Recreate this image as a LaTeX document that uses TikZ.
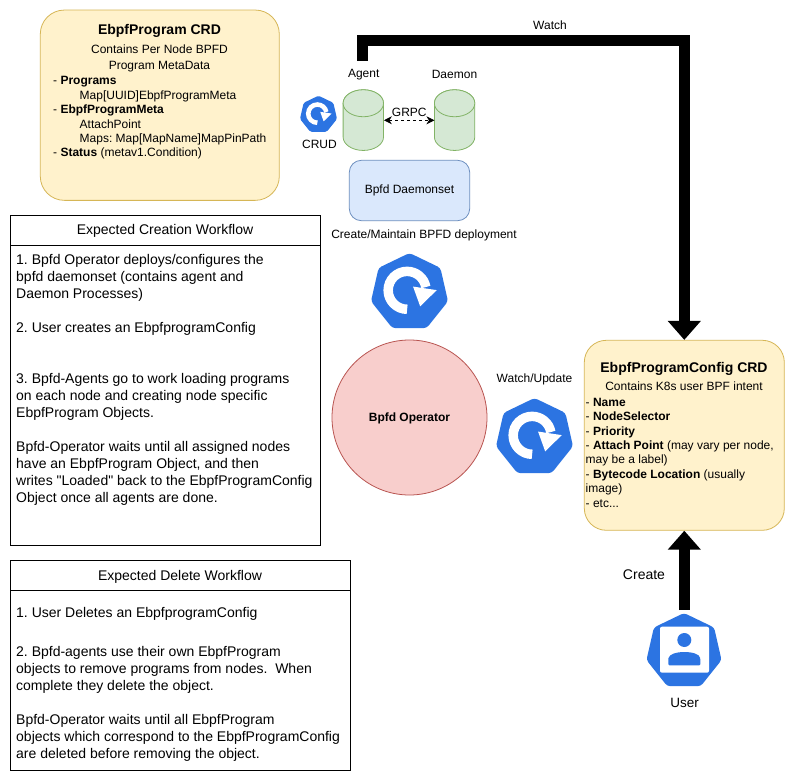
\documentclass[tikz,border=0pt]{standalone}
\usepackage{fontspec}
\setmainfont{Liberation Sans}
\newfontfamily\plainq{Liberation Sans}
\usetikzlibrary{arrows.meta}
\definecolor{yf}{HTML}{FFF2CC}\definecolor{yd}{HTML}{D6B656}
\definecolor{gf}{HTML}{D5E8D4}\definecolor{gd}{HTML}{82B366}
\definecolor{bf}{HTML}{DAE8FC}\definecolor{bd}{HTML}{6C8EBF}
\definecolor{rf}{HTML}{F8CECC}\definecolor{rd}{HTML}{B85450}
\definecolor{kb}{HTML}{2C74E2}
\frenchspacing
\tikzset{
 txt/.style={inner sep=0pt,font=\frenchspacing\fontsize{12}{14.4}\selectfont,align=left},
 ctxt/.style={inner sep=0pt,font=\frenchspacing\fontsize{12}{16.3}\selectfont,align=center},
 ntxt/.style={inner sep=0pt,font=\frenchspacing\fontsize{14}{17}\selectfont,align=left},
 note/.style={rectangle,draw=black,line width=.8pt,fill=white,inner sep=0pt},
 crd/.style={rectangle,draw=yd,fill=yf,line width=.8pt,inner sep=0pt},
 bigarrow/.style={line width=11pt,draw=black,-{Triangle[length=19pt,width=32pt]}},
}
\newcommand\hept[3]{%
 \fill[kb,rounded corners=#3*0.08pt,shift={(#1,#2)},scale=#3]
  (-90:1) -- (-38.57:1) -- (12.86:1) -- (64.29:1) -- (115.71:1) -- (167.14:1) -- (-141.43:1) -- cycle;}
\newcommand\sync[3]{%
 \hept{#1}{#2}{#3}
 \begin{scope}[shift={(#1,#2)},scale=#3]
  \draw[white,line width=#3*0.24pt] (-0.06,-0.055) ++(90:.48) arc[start angle=90,end angle=350,radius=.48];
  \fill[white] (.69,-.06) -- (.27,.35) -- (.09,-.15) -- cycle;
 \end{scope}}
\begin{document}
\begin{tikzpicture}[x=1pt,y=-1pt]
\useasboundingbox (0,0) rectangle (795,781);
\fill[white] (0,0) rectangle (795,781);

% CRD 1
\node[crd,rounded corners=24pt,minimum width=239pt,minimum height=190.3pt] (progcrd) at (159.8,105.2) {};
\node[font=\fontsize{14}{17}\selectfont\bfseries,inner sep=0pt] (progtitle) at (159.5,31) {EbpfProgram CRD};
\node[ctxt,anchor=north] (progsub) at (159.5,44.8) {Contains Per Node BPFD\\Program MetaData};
\node[txt,anchor=north west] (progbody) at (53,76.5) {- \textbf{Programs}\\
\hspace*{26.5pt}Map[UUID]EbpfProgramMeta\\
- \textbf{EbpfProgramMeta}\\
\hspace*{26.5pt}AttachPoint\\
\hspace*{26.5pt}Maps: Map[MapName]MapPinPath\\
- \textbf{Status} (metav1.Condition)};

% Creation
\node[note,minimum width=310.5pt,minimum height=330pt] (creation) at (165.2,380) {};
\node[note,minimum width=310.5pt,minimum height=30.3pt] (creationh) at (165.2,230.2) {};
\node[ntxt] (creationt) at (165,231.3) {Expected Creation Workflow};
\node[ntxt,anchor=north west] (creationb) at (16,254.5) {1. Bpfd Operator deploys/configures the\\
bpfd daemonset (contains agent and\\
Daemon Processes)\\[17pt]
2. User creates an EbpfprogramConfig\\[34pt]
3. Bpfd-Agents go to work loading programs\\
on each node and creating node specific\\
EbpfProgram Objects.\\[17pt]
Bpfd-Operator waits until all assigned nodes\\
have an EbpfProgram Object, and then\\
writes {\plainq"Loaded"} back to the EbpfProgramConfig\\
Object once all agents are done.};

% Delete
\node[note,minimum width=340.7pt,minimum height=209.7pt] (deletion) at (180.4,665.2) {};
\node[note,minimum width=340.7pt,minimum height=30.4pt] (deletionh) at (180.4,575.5) {};
\node[ntxt] (deletiont) at (180,576.8) {Expected Delete Workflow};
\node[ntxt,anchor=north west] (deletionb) at (16,607) {1. User Deletes an EbpfprogramConfig\\[21.7pt]
2. Bpfd-agents use their own EbpfProgram\\
objects to remove programs from nodes.\ \ When\\
complete they delete the object.\\[17pt]
Bpfd-Operator waits until all EbpfProgram\\
objects which correspond to the EbpfProgramConfig\\
are deleted before removing the object.};

% Daemonset
\node[rectangle,draw=bd,fill=bf,line width=.8pt,rounded corners=12pt,minimum width=120.4pt,minimum height=60.4pt,inner sep=0pt,font=\fontsize{12}{15}\selectfont] (daemonset) at (409.5,190.5) {Bpfd Daemonset};
\node[ctxt] (maintain) at (424,235) {Create/Maintain BPFD deployment};

% cylinders
\node[minimum width=40.4pt,minimum height=60.7pt,inner sep=0pt] (agent) at (363.5,120.3) {};
\node[minimum width=40.4pt,minimum height=60.7pt,inner sep=0pt] (daemon) at (454.8,120.3) {};
\foreach \c in {agent,daemon}{
 \draw[draw=gd,fill=gf,line width=.8pt] (\c.north west) ++(0,13.5)
   arc[x radius=20.2,y radius=13.5,start angle=180,end angle=360]
   -- ++(0,33.7) arc[x radius=20.2,y radius=13.5,start angle=0,end angle=180] -- cycle;
 \draw[draw=gd,fill=gf,line width=.8pt] (\c.north west) ++(0,13.5)
   arc[x radius=20.2,y radius=13.5,start angle=180,end angle=540] -- cycle;
}
\node[ctxt] (agentl) at (363.7,74.7) {Agent};
\node[ctxt] (daemonl) at (454.5,74.7) {Daemon};
\draw[dashed,line width=.8pt,{Stealth[length=8pt,width=8pt]}-{Stealth[length=8pt,width=8pt]}] (agent.east) -- (daemon.west);
\node[ctxt] (grpc) at (409.3,112.7) {GRPC};

% sync icons
\sync{318.5}{114.7}{19}
\node[ctxt] (crud) at (319.5,144.7) {CRUD};
\sync{409.5}{292.5}{39.5}
\sync{534.5}{437.5}{39.5}
\node[ctxt] (watchupdate) at (534.5,379.5) {Watch/Update};

% operator
\node[circle,draw=rd,fill=rf,line width=.8pt,minimum size=155pt,inner sep=0pt,font=\fontsize{12}{15}\selectfont\bfseries] (operator) at (409.5,417.5) {\raisebox{-4.3pt}[0pt][0pt]{Bpfd Operator}};

% CRD 2
\node[crd,rounded corners=22pt,minimum width=200pt,minimum height=190pt] (cfgcrd) at (684.3,435.3) {};
\node[font=\fontsize{14}{17}\selectfont\bfseries,inner sep=0pt] (cfgtitle) at (684,369) {EbpfProgramConfig CRD};
\node[ctxt] (cfgsub) at (684,386.7) {Contains K8s user BPF intent};
\node[txt,anchor=north west] (cfgbody) at (585.5,397.8) {- \textbf{Name}\\
- \textbf{NodeSelector}\\
- \textbf{Priority}\\
- \textbf{Attach Point} (may vary per node,\\
may be a label)\\
- \textbf{Bytecode Location} (usually\\
image)\\
- etc...};

% user
\hept{684}{651.5}{38.5}
\coordinate (usertop) at (684.3,610);
\fill[white,rounded corners=2pt] (660,626.7) rectangle (709,672.7);
\fill[kb] (684.3,640) circle (7);
\fill[kb,rounded corners=1pt] (668.3,665.3) -- (668.3,659) .. controls (670,650) and (699,650) .. (700.3,659) -- (700.3,665.3) -- cycle;
\node[font=\fontsize{13.5}{16}\selectfont,inner sep=0pt] (userl) at (684.5,703) {User};

% arrows
\coordinate (watchstart) at (362.5,61);
\coordinate (watchcorner) at (684.3,40.5);
\draw[bigarrow,line join=miter] (watchstart) |- (watchcorner) -- (cfgcrd.north);
\draw[bigarrow] (usertop) -- (cfgcrd.south);
\node[ctxt] (watch) at (550,25) {Watch};
\node[font=\fontsize{14}{17}\selectfont,inner sep=0pt] (create) at (644,575) {Create};
\end{tikzpicture}
\end{document}
